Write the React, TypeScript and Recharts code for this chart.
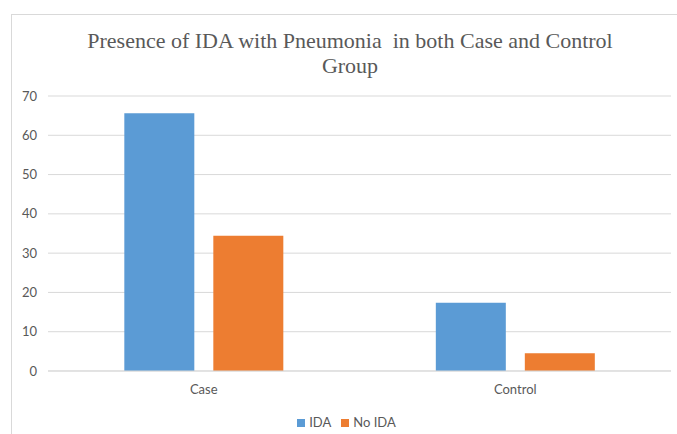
import { BarChart, Bar, XAxis, YAxis, CartesianGrid, Legend } from "recharts";

const groups = ["Case", "Control"];
const idaValues = [65.6, 17.4];
const noIdaValues = [34.4, 4.5];
const yTicks = [0, 10, 20, 30, 40, 50, 60, 70];

const data = groups.map((g, i) => ({ group: g, ida: idaValues[i], noIda: noIdaValues[i] }));

const textColor = "#595959";
const gridColor = "#d9d9d9";

export default function App() {
  return (
    <div style={{ position: "absolute", left: 0, top: 0, width: 677, height: 434, background: "#fff", overflow: "hidden" }}>
      <div
        style={{
          position: "absolute",
          left: 11,
          top: 14,
          width: 680,
          height: 440,
          border: `1px solid ${gridColor}`,
        }}
      />
      <div
        style={{
          position: "absolute",
          left: 40,
          top: 28,
          width: 620,
          textAlign: "center",
          fontFamily: "'Liberation Serif', 'Times New Roman', serif",
          fontSize: 22,
          lineHeight: "25px",
          color: textColor,
        }}
      >
        Presence of IDA with Pneumonia&nbsp; in both Case and Control
        <br />
        Group
      </div>
      <BarChart
        width={677}
        height={434}
        data={data}
        margin={{ top: 96, right: 6, left: 0, bottom: 4 }}
        barCategoryGap="24.5%"
        barGap={19}
        style={{ position: "absolute", left: 0, top: 0, fontFamily: "Lato, sans-serif" }}
      >
        <CartesianGrid vertical={false} stroke={gridColor} />
        <XAxis
          dataKey="group"
          axisLine={{ stroke: gridColor }}
          tickLine={false}
          tick={{ fill: textColor, fontSize: 13 }}
          tickMargin={8}
          height={40}
        />
        <YAxis
          domain={[0, 70]}
          ticks={yTicks}
          width={48}
          axisLine={false}
          tickLine={false}
          tickSize={0}
          tickMargin={11}
          tick={{ fill: textColor, fontSize: 13 }}
          interval={0}
        />
        <Legend
          verticalAlign="bottom"
          align="center"
          iconType="square"
          iconSize={8}
          wrapperStyle={{ paddingLeft: 16 }}
          formatter={(v) => <span style={{ color: textColor, fontSize: 13 }}>{v}</span>}
        />
        <Bar dataKey="ida" name="IDA" fill="#5B9BD5" isAnimationActive={false} />
        <Bar dataKey="noIda" name="No IDA" fill="#ED7D31" isAnimationActive={false} />
      </BarChart>
    </div>
  );
}
